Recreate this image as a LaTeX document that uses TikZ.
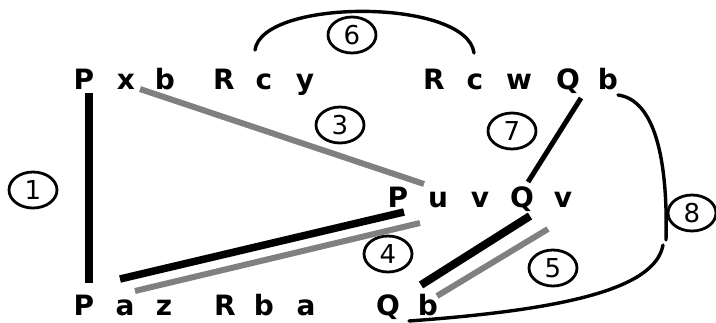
\documentclass[tikz,border=0pt]{standalone}
\usepackage{fontspec}
\setmainfont{DejaVu Sans}
\usetikzlibrary{shapes.geometric}
\tikzset{
  sym/.style={anchor=base, inner sep=0pt, font=\fontsize{28}{28}\selectfont\bfseries},
  tag/.style={draw, ellipse, line width=2.8pt, minimum width=48pt, minimum height=36pt,
              inner sep=0pt, font=\fontsize{26}{26}\selectfont},
  solidlink/.style={line width=7.5pt},
  shadelink/.style={line width=6pt, draw=black!50},
  arc/.style={line width=3.4pt, line cap=round}
}
\begin{document}
\begin{tikzpicture}[x=1pt, y=-1pt]
\useasboundingbox (0,0) rectangle (716,322);

% top row
\node[sym] (tP)  at (84,89)  {P};
\node[sym] (tx)  at (126,89) {x};
\node[sym] (tb)  at (165,89) {b};
\node[sym] (tR)  at (224,89) {R};
\node[sym] (tc)  at (264,89) {c};
\node[sym] (ty)  at (305,89) {y};
\node[sym] (tR2) at (434,89) {R};
\node[sym] (tc2) at (475,89) {c};
\node[sym] (tw)  at (519,89) {w};
\node[sym] (tQ)  at (568,89) {Q};
\node[sym] (tb2) at (608,89) {b};

% middle row
\node[sym] (mP)  at (398,207) {P};
\node[sym] (mu)  at (438,207) {u};
\node[sym] (mv)  at (480,207) {v};
\node[sym] (mQ)  at (522,207) {Q};
\node[sym] (mv2) at (563,207) {v};

% bottom row
\node[sym] (bP)  at (84,315)  {P};
\node[sym] (ba)  at (125,315) {a};
\node[sym] (bz)  at (164,315) {z};
\node[sym] (bR)  at (225,315) {R};
\node[sym] (bb)  at (264,315) {b};
\node[sym] (ba2) at (306,315) {a};
\node[sym] (bQ)  at (388,315) {Q};
\node[sym] (bb2) at (428,315) {b};

% numbered tags
\node[tag] (n1) at (33,190)  {1};
\node[tag] (n3) at (340,125) {3};
\node[tag] (n4) at (388,254) {4};
\node[tag] (n5) at (553,268) {5};
\node[tag] (n6) at (352,35)  {6};
\node[tag] (n7) at (512,131) {7};
\node[tag] (n8) at (692,213) {8};

% link end points
\coordinate (a1) at (89,93);   \coordinate (b1) at (89,283);
\coordinate (a3) at (140,89);  \coordinate (b3) at (424,184);
\coordinate (a4) at (120,279); \coordinate (b4) at (404,212);
\coordinate (c4) at (135,291); \coordinate (d4) at (420,223);
\coordinate (a5) at (421,285); \coordinate (b5) at (530,216);
\coordinate (c5) at (437,296); \coordinate (d5) at (548,229);
\coordinate (a7) at (581,98);  \coordinate (b7) at (528,182);
\coordinate (a6) at (255,50);  \coordinate (b6) at (474,53);
\coordinate (a8) at (618,95);  \coordinate (b8) at (666,240);
\coordinate (c8) at (663,245); \coordinate (d8) at (409,321);

% links
\draw[solidlink, line width=8pt] (a1) -- (b1);
\draw[shadelink] (a3) -- (b3);
\draw[solidlink] (a4) -- (b4);
\draw[shadelink] (c4) -- (d4);
\draw[solidlink, line width=8pt] (a5) -- (b5);
\draw[shadelink] (c5) -- (d5);
\draw[line width=5pt] (a7) -- (b7);
\draw[arc] (a6) .. controls (262,-2) and (467,-2) .. (b6);
\draw[arc] (a8) .. controls (655,100) and (668,160) .. (b8);
\draw[arc] (c8) .. controls (655,290) and (560,310) .. (d8);
\end{tikzpicture}
\end{document}
